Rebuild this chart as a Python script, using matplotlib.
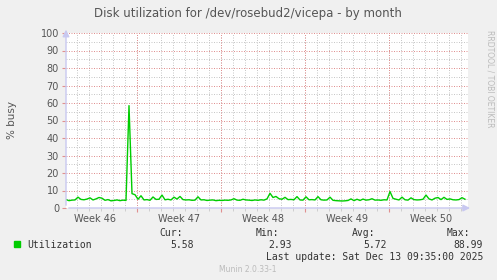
import matplotlib
matplotlib.use("Agg")
import matplotlib.pyplot as plt
import numpy as np

# Munin monthly graph, one sample every 6 hours (days on the x axis)
step_days = 0.25
util = [4.8, 4.2, 4.5, 4.6, 6.2, 4.9, 4.7, 5.1, 5.8, 4.6, 5.2, 6.0, 5.6, 4.4, 4.8, 4.1,
        4.3, 4.6, 4.2, 4.5, 4.3, 58.5, 8.2, 7.6, 5.0, 7.0, 4.6, 4.8, 4.4, 6.3, 4.9, 5.0,
        7.4, 4.7, 5.0, 4.6, 6.2, 5.1, 6.6, 4.8, 4.6, 4.7, 4.4, 4.5, 6.4, 4.6, 4.7, 4.3,
        4.5, 4.6, 4.2, 4.4, 4.3, 4.5, 4.4, 4.6, 5.3, 4.5, 4.4, 5.0, 4.6, 4.5, 4.3, 4.6,
        4.4, 4.7, 4.5, 5.2, 8.4, 6.0, 6.6, 5.3, 5.0, 6.1, 4.8, 4.9, 4.7, 6.5, 4.6, 4.5,
        6.4, 4.7, 4.8, 4.6, 6.5, 4.7, 4.5, 4.6, 6.2, 4.4, 4.2, 4.1, 4.0, 4.1, 4.3, 5.2,
        4.2, 5.0, 4.3, 5.1, 4.5, 4.7, 5.3, 4.5, 4.6, 4.4, 4.7, 4.6, 9.4, 5.5, 5.0, 4.6,
        6.2, 4.7, 4.5, 5.8, 4.8, 4.6, 4.7, 5.0, 7.4, 5.2, 4.6, 5.6, 6.0, 4.8, 6.1, 4.9,
        5.2, 4.7, 4.6, 4.8, 5.9, 5.0]
week_labels = ["Week 46", "Week 47", "Week 48", "Week 49", "Week 50"]
first_week_break = 5.92   # days from left edge to start of week 47
span_days = 33.5

stats_names = ["Cur:", "Min:", "Avg:", "Max:"]
stats_vals = ["5.58", "2.93", "5.72", "88.99"]

t = np.arange(len(util)) * step_days
breaks = [first_week_break + 7 * k for k in range(0, 4)]
mids = [first_week_break - 3.5 + 7 * k for k in range(len(week_labels))]

fig = plt.figure(figsize=(4.97, 2.80), dpi=100, facecolor="#F0F0F0")
ax = fig.add_axes([66 / 497, 72 / 280, 402 / 497, 175 / 280])
ax.set_facecolor("white")
ax.set_xlim(0, span_days)
ax.set_ylim(0, 100)

# grid: 1px dots, 1px gaps
dot = (0, (1, 1.5))
minor_x = np.arange(first_week_break % 1, span_days, 1.0)
for x in minor_x:
    ax.axvline(x, color="#C8C8C8", lw=0.72, ls=dot, zorder=1)
for y in np.arange(5, 100, 10):
    ax.axhline(y, color="#C8C8C8", lw=0.72, ls=dot, zorder=1)
for x in breaks:
    ax.axvline(x, color="#E09090", lw=0.72, ls=dot, zorder=2)
for y in np.arange(10, 101, 10):
    ax.axhline(y, color="#E09090", lw=0.72, ls=dot, zorder=2)

ax.plot(t, util, color="#00CC00", lw=1.0, zorder=3)

for s in ax.spines.values():
    s.set_visible(False)
ax.set_xticks(breaks)
ax.set_xticklabels([])
ax.set_xticks(minor_x, minor=True)
ax.tick_params(axis="x", which="major", length=3, color="#E09090", direction="out")
ax.tick_params(axis="x", which="minor", length=2, color="#C8C8C8", direction="out")
ax.set_yticks(np.arange(0, 101, 10))
ax.tick_params(axis="y", length=3, color="#E09090", labelsize=7, labelcolor="#555555", pad=2)
for m, lab in zip(mids, week_labels):
    ax.text(m, -3.5, lab, ha="center", va="top", fontsize=7, color="#555555")

axis_c = "#C8C8F0"
ax.annotate("", xy=(0, 1.035), xytext=(0, 0), xycoords="axes fraction",
            arrowprops=dict(arrowstyle="-|>,head_length=0.4,head_width=0.2", color=axis_c, lw=1),
            annotation_clip=False)
ax.annotate("", xy=(1.012, 0), xytext=(0, 0), xycoords="axes fraction",
            arrowprops=dict(arrowstyle="-|>,head_length=0.4,head_width=0.2", color=axis_c, lw=1),
            annotation_clip=False)

fig.text(248 / 497, 1 - 13 / 280, "Disk utilization for /dev/rosebud2/vicepa - by month",
         ha="center", va="center", fontsize=8.5, color="#555555")
fig.text(12 / 497, 1 - 120 / 280, "% busy", rotation=90, ha="center", va="center",
         fontsize=7.5, color="#555555")
fig.text(490 / 497, 1 - 30 / 280, "RRDTOOL / TOBI OETIKER", rotation=270, ha="center",
         va="top", fontsize=5.5, color="#BBBBBB")

mono = "DejaVu Sans Mono"
fig.patches.append(plt.Rectangle((14 / 497, 1 - 247 / 280), 6 / 497, 6 / 280,
                                 transform=fig.transFigure, color="#00CC00"))
fig.text(27 / 497, 1 - 245 / 280, "Utilization", family=mono, fontsize=7,
         color="#333333", va="center")
name_x = [159, 256, 352, 447]
val_right = [194, 292, 387, 483]
for nx, vr, n, v in zip(name_x, val_right, stats_names, stats_vals):
    fig.text(nx / 497, 1 - 233 / 280, n, family=mono, fontsize=7, color="#333333", va="center")
    fig.text(vr / 497, 1 - 245 / 280, v, family=mono, fontsize=7, color="#333333",
             va="center", ha="right")
fig.text(483 / 497, 1 - 257 / 280, "Last update: Sat Dec 13 09:35:00 2025", family=mono,
         fontsize=7, color="#333333", va="center", ha="right")
fig.text(248 / 497, 1 - 269 / 280, "Munin 2.0.33-1", fontsize=5.5, color="#BBBBBB",
         ha="center", va="center")

fig.savefig("out.png", dpi=100, facecolor=fig.get_facecolor())
